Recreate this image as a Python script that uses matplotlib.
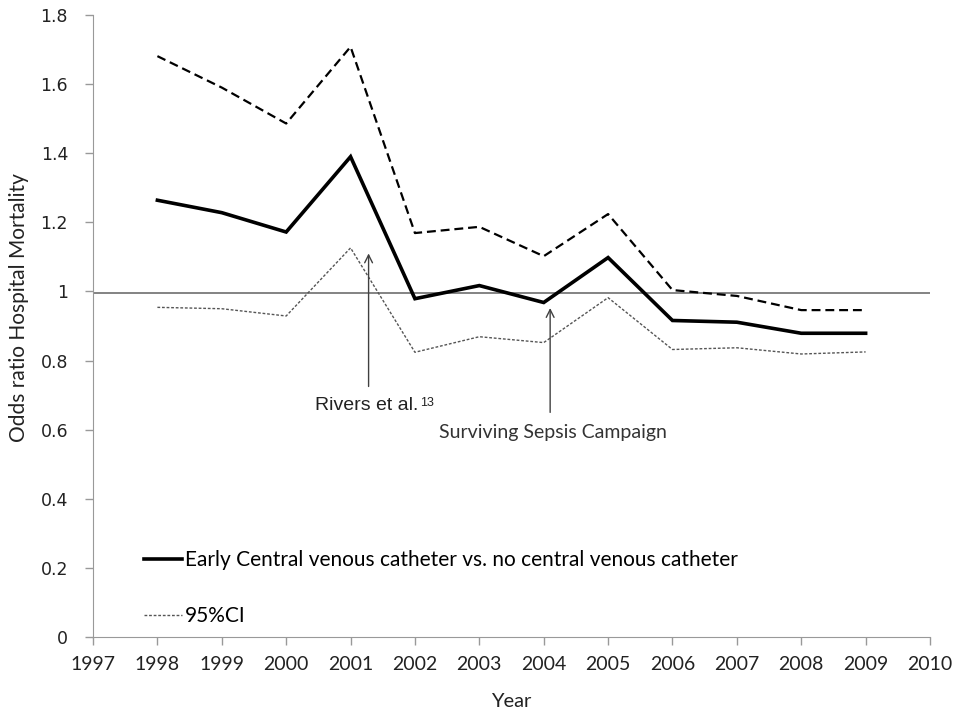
import matplotlib.pyplot as plt

# Odds ratio for hospital mortality per year, with 95% confidence bounds
years = [1998, 1999, 2000, 2001, 2002, 2003, 2004, 2005, 2006, 2007, 2008, 2009]
odds_ratio = [1.264, 1.228, 1.172, 1.390, 0.979, 1.017, 0.968, 1.098, 0.916, 0.911, 0.879, 0.879]
ci_upper = [1.681, 1.590, 1.486, 1.708, 1.169, 1.187, 1.102, 1.224, 1.004, 0.987, 0.946, 0.946]
ci_lower = [0.954, 0.950, 0.929, 1.126, 0.824, 0.869, 0.852, 0.982, 0.832, 0.837, 0.819, 0.825]
reference = 0.996

x_ticks = list(range(1997, 2011))
y_ticks = [0, 0.2, 0.4, 0.6, 0.8, 1.0, 1.2, 1.4, 1.6, 1.8]
y_tick_labels = ["0", "0.2", "0.4", "0.6", "0.8", "1", "1.2", "1.4", "1.6", "1.8"]

# events marked with arrows: (label, year, arrow tip, arrow tail)
rivers = ("Rivers et al.", 2001.28, 1.11, 0.725)
ssc = ("Surviving Sepsis Campaign", 2004.1, 0.952, 0.65)

body = "Lato"

fig = plt.figure(figsize=(9.57, 7.15), dpi=100)
ax = fig.add_axes([0.0972, 0.1091, 0.8746, 0.8699])

ax.axhline(reference, color="#7a7a7a", lw=1.3, zorder=1)
ax.plot(years, odds_ratio, color="black", lw=2.6, solid_joinstyle="miter",
        label="Early Central venous catheter vs. no central venous catheter", zorder=3)
ax.plot(years, ci_upper, color="black", lw=1.6, dashes=(4, 2.2), zorder=2)
ax.plot(years, ci_lower, color="#555555", lw=1.0, dashes=(2, 1.3), label="95%CI", zorder=2)

for text, yr, tip, tail in [rivers, ssc]:
    ax.annotate("", xy=(yr, tip), xytext=(yr, tail),
                arrowprops=dict(arrowstyle="->", color="#404040", lw=1.0,
                                mutation_scale=14, shrinkA=0, shrinkB=0))
t = ax.text(rivers[1] - 0.03, rivers[3] - 0.03, rivers[0], ha="center", va="top",
            fontsize=14, family="Liberation Sans", color="#222222")
ax.annotate("13", xy=(1, 1), xycoords=t, xytext=(1, 0), textcoords="offset points",
            ha="left", va="top", fontsize=9, family="Liberation Sans", color="#222222")
ax.text(ssc[1] + 0.05, ssc[3] - 0.035, ssc[0], ha="center", va="top",
        fontsize=14, family=body, color="#333333")

ax.set_xlim(1997, 2010)
ax.set_ylim(0, 1.8)
ax.set_xticks(x_ticks)
ax.set_xticklabels([str(t) for t in x_ticks], family=body, fontsize=14, color="#222222")
ax.set_yticks(y_ticks)
ax.set_yticklabels(y_tick_labels, fontsize=12.5, color="#222222")
ax.tick_params(axis="both", direction="out", color="#999999", length=6, width=1)
ax.tick_params(axis="y", pad=12)
ax.tick_params(axis="x", pad=8)

for side in ["top", "right"]:
    ax.spines[side].set_visible(False)
for side in ["left", "bottom"]:
    ax.spines[side].set_color("#999999")

ax.set_xlabel("Year", family=body, fontsize=14.5, color="#222222", labelpad=14)
ax.set_ylabel("Odds ratio Hospital Mortality", family=body, fontsize=15, color="#222222")
ax.yaxis.set_label_coords(-0.077, 0.53)

leg = ax.legend(loc="lower left", bbox_to_anchor=(0.038, -0.013), frameon=False,
                handlelength=1.85, handletextpad=0.15, labelspacing=1.75,
                prop={"family": body, "size": 15})

fig.savefig("out.png", dpi=100)
